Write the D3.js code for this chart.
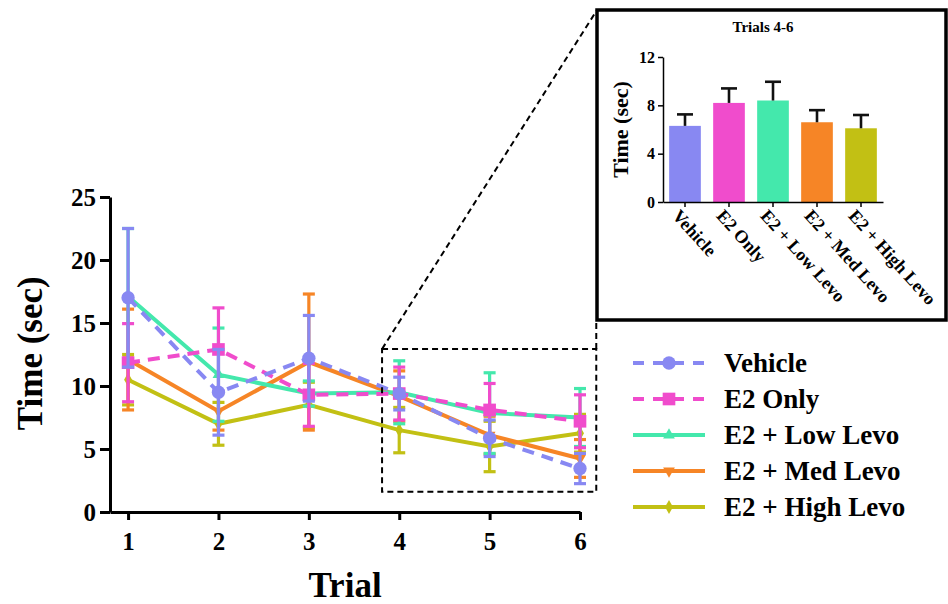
<!DOCTYPE html>
<html>
<head>
<meta charset="utf-8">
<script src="https://cdn.jsdelivr.net/npm/d3@7"></script>
<style>
  html, body { margin: 0; padding: 0; background: #fff; }
  svg { display: block; font-family: "Liberation Serif", "Times New Roman", serif; font-weight: bold; }
</style>
</head>
<body>
<svg id="chart" width="948" height="604"></svg>
<script>
// ---- data ----
const trials = [1, 2, 3, 4, 5, 6];
const groups = ["Vehicle", "E2 Only", "E2 + Low Levo", "E2 + Med Levo", "E2 + High Levo"];
const colors = ["#8888f2", "#f04ccc", "#44e8ac", "#f68526", "#c2c014"];

const vehicleMean = [17.0, 9.5, 12.2, 9.4, 5.85, 3.45];
const vehicleSem  = [5.5, 3.4, 3.4, 1.3, 1.45, 1.2];
const e2OnlyMean  = [11.85, 12.9, 9.3, 9.4, 8.1, 7.2];
const e2OnlySem   = [3.1, 3.3, 2.5, 2.1, 2.1, 2.1];
const lowMean     = [17.1, 10.9, 9.4, 9.5, 7.85, 7.5];
const lowSem      = [5.4, 3.7, 1.0, 2.5, 3.2, 2.3];
const medMean     = [12.1, 8.0, 11.9, 9.2, 6.1, 4.25];
const medSem      = [4.0, 1.5, 5.4, 2.0, 1.5, 1.5];
const highMean    = [10.5, 7.0, 8.5, 6.5, 5.2, 6.25];
const highSem     = [2.0, 1.7, 1.8, 1.8, 2.0, 1.5];

const yTicks = [0, 5, 10, 15, 20, 25];

// Trials 4-6 summary
const insetMean = [6.3, 8.2, 8.4, 6.6, 6.1];
const insetSem  = [0.95, 1.2, 1.55, 1.0, 1.1];
const insetTicks = [0, 4, 8, 12];

// highlighted window (trial range, time range)
const zoomTrials = [3.81, 6.18];
const zoomTimes = [1.6, 12.94];

const means = [vehicleMean, e2OnlyMean, lowMean, medMean, highMean];
const sems = [vehicleSem, e2OnlySem, lowSem, medSem, highSem];
const dashed = [true, true, false, false, false];
const symbols = [d3.symbolCircle, d3.symbolSquare, d3.symbolTriangle, d3.symbolTriangle, d3.symbolDiamond];
const symbolSizes = [140, 160, 60, 60, 55];
const symbolRot = [0, 0, 0, 180, 0];

const FONT = "'Liberation Serif', 'Times New Roman', serif";

const series = groups.map((g, i) => ({
  name: g, color: colors[i], dashed: dashed[i],
  symbol: symbols[i], size: symbolSizes[i], rot: symbolRot[i],
  points: trials.map((t, j) => ({ t, m: means[i][j], s: sems[i][j] }))
}));

const svg = d3.select("#chart");

function styleAxis(a, lineW, fontPx) {
  a.attr("font-family", FONT).attr("font-weight", "bold").attr("font-size", fontPx);
  a.select(".domain").attr("stroke", "#000").attr("stroke-width", lineW);
  a.selectAll(".tick line").attr("stroke", "#000").attr("stroke-width", lineW);
  a.selectAll(".tick text").attr("fill", "#000");
}

// ---- main line chart ----
const x = d3.scaleLinear().domain([0.8, 6]).range([110, 580]);
const y = d3.scaleLinear().domain([0, 25]).range([512, 197]);

const main = svg.append("g");

const yAxis = main.append("g")
  .attr("transform", `translate(${x(0.8)},0)`)
  .call(d3.axisLeft(y).tickValues(yTicks).tickFormat(d3.format("d"))
    .tickSize(10).tickSizeOuter(0).tickPadding(4));
const xAxis = main.append("g")
  .attr("transform", `translate(0,${y(0)})`)
  .call(d3.axisBottom(x).tickValues(trials).tickFormat(d3.format("d"))
    .tickSize(8).tickSizeOuter(0).tickPadding(10));
styleAxis(yAxis, 3, 25);
styleAxis(xAxis, 3, 25);
xAxis.selectAll(".tick text").attr("dy", "0.78em");

main.append("text")
  .attr("transform", `translate(42,${y(12.6)}) rotate(-90)`)
  .attr("text-anchor", "middle")
  .style("font-size", "35px")
  .text("Time (sec)");
main.append("text")
  .attr("x", 345).attr("y", 597)
  .attr("text-anchor", "middle")
  .style("font-size", "35px")
  .text("Trial");

const line = d3.line().x(d => x(d.t)).y(d => y(d.m));

// draw from last group to first so Vehicle sits on top
const drawOrder = series.slice().reverse();

const sg = main.selectAll("g.series").data(drawOrder).join("g").attr("class", "series");

// error bars
sg.each(function(s) {
  const g = d3.select(this);
  const eb = g.selectAll("g.err").data(s.points).join("g").attr("class", "err")
    .attr("stroke", s.color).attr("stroke-width", 3.2);
  eb.append("line")
    .attr("x1", d => x(d.t)).attr("x2", d => x(d.t))
    .attr("y1", d => y(d.m - d.s)).attr("y2", d => y(d.m + d.s));
  eb.append("line")
    .attr("x1", d => x(d.t) - 6).attr("x2", d => x(d.t) + 6)
    .attr("y1", d => y(d.m + d.s)).attr("y2", d => y(d.m + d.s));
  eb.append("line")
    .attr("x1", d => x(d.t) - 6).attr("x2", d => x(d.t) + 6)
    .attr("y1", d => y(d.m - d.s)).attr("y2", d => y(d.m - d.s));
});

// lines and markers
sg.append("path")
  .attr("d", s => line(s.points))
  .attr("fill", "none")
  .attr("stroke", s => s.color)
  .attr("stroke-width", 4)
  .attr("stroke-dasharray", s => s.dashed ? "12,8" : null);

sg.each(function(s) {
  d3.select(this).selectAll("path.mk").data(s.points).join("path").attr("class", "mk")
    .attr("d", d3.symbol().type(s.symbol).size(s.size))
    .attr("transform", d => `translate(${x(d.t)},${y(d.m)}) rotate(${s.rot})`)
    .attr("fill", s.color);
});

// highlighted window and connector lines
const zx0 = x(zoomTrials[0]), zx1 = x(zoomTrials[1]);
const zy0 = y(zoomTimes[1]), zy1 = y(zoomTimes[0]);

const box = { x: 597, y: 10, w: 349, h: 310 };

const dashG = svg.append("g")
  .attr("fill", "none").attr("stroke", "#000").attr("stroke-width", 2)
  .attr("stroke-dasharray", "6,4");
dashG.append("rect").attr("x", zx0).attr("y", zy0).attr("width", zx1 - zx0).attr("height", zy1 - zy0);
dashG.append("line").attr("x1", zx0).attr("y1", zy0).attr("x2", box.x).attr("y2", box.y);
dashG.append("line").attr("x1", zx1).attr("y1", zy0).attr("x2", zx1).attr("y2", box.y + box.h);

// ---- legend ----
const legend = svg.append("g");
const legY = [363, 399, 435, 471, 507];
const lg = legend.selectAll("g").data(series).join("g")
  .attr("transform", (d, i) => `translate(0,${legY[i]})`);
lg.append("line")
  .attr("x1", 633).attr("x2", 705).attr("y1", 0).attr("y2", 0)
  .attr("stroke", d => d.color).attr("stroke-width", 4)
  .attr("stroke-dasharray", d => d.dashed ? "11,9" : null);
lg.append("path")
  .attr("d", d => d3.symbol().type(d.symbol).size(d.size)())
  .attr("transform", d => `translate(669,0) rotate(${d.rot})`)
  .attr("fill", d => d.color);
lg.append("text")
  .attr("x", 724).attr("y", 0).attr("dy", "0.35em")
  .style("font-size", "27px")
  .text(d => d.name);

// ---- inset bar chart: trials 4-6 ----
const inset = svg.append("g");
inset.append("rect")
  .attr("x", box.x).attr("y", box.y).attr("width", box.w).attr("height", box.h)
  .attr("fill", "#fff").attr("stroke", "#000").attr("stroke-width", 3.5);

const bx = d3.scaleBand().domain(groups).range([663, 883]).paddingInner(0.28).paddingOuter(0.14);
const by = d3.scaleLinear().domain([0, 12]).range([202, 57]);

inset.selectAll("rect.bar").data(groups).join("rect").attr("class", "bar")
  .attr("x", g => bx(g)).attr("width", bx.bandwidth())
  .attr("y", (g, i) => by(insetMean[i])).attr("height", (g, i) => by(0) - by(insetMean[i]))
  .attr("fill", (g, i) => colors[i]);

const ib = inset.selectAll("g.ierr").data(groups).join("g").attr("class", "ierr")
  .attr("stroke", "#111").attr("stroke-width", 2.6);
ib.append("line")
  .attr("x1", g => bx(g) + bx.bandwidth() / 2).attr("x2", g => bx(g) + bx.bandwidth() / 2)
  .attr("y1", (g, i) => by(insetMean[i])).attr("y2", (g, i) => by(insetMean[i] + insetSem[i]));
ib.append("line")
  .attr("x1", g => bx(g) + bx.bandwidth() / 2 - 8).attr("x2", g => bx(g) + bx.bandwidth() / 2 + 8)
  .attr("y1", (g, i) => by(insetMean[i] + insetSem[i])).attr("y2", (g, i) => by(insetMean[i] + insetSem[i]));

const iy = inset.append("g").attr("transform", "translate(663,0)")
  .call(d3.axisLeft(by).tickValues(insetTicks).tickSize(5).tickSizeOuter(0).tickPadding(3));
const ix = inset.append("g").attr("transform", `translate(0,${by(0)})`)
  .call(d3.axisBottom(bx).tickSize(5).tickSizeOuter(0));
styleAxis(iy, 1.5, 16);
styleAxis(ix, 1.5, 18);
ix.selectAll(".tick text")
  .attr("text-anchor", "start")
  .attr("y", 0).attr("dy", 0)
  .attr("dominant-baseline", "hanging")
  .attr("transform", "translate(-4,6) rotate(48)");

inset.append("text")
  .attr("transform", `translate(628,${by(6)}) rotate(-90)`)
  .attr("text-anchor", "middle")
  .style("font-size", "22px")
  .text("Time (sec)");
inset.append("text")
  .attr("x", 763).attr("y", 32)
  .attr("text-anchor", "middle")
  .style("font-size", "15px")
  .text("Trials  4-6");
</script>
</body>
</html>
